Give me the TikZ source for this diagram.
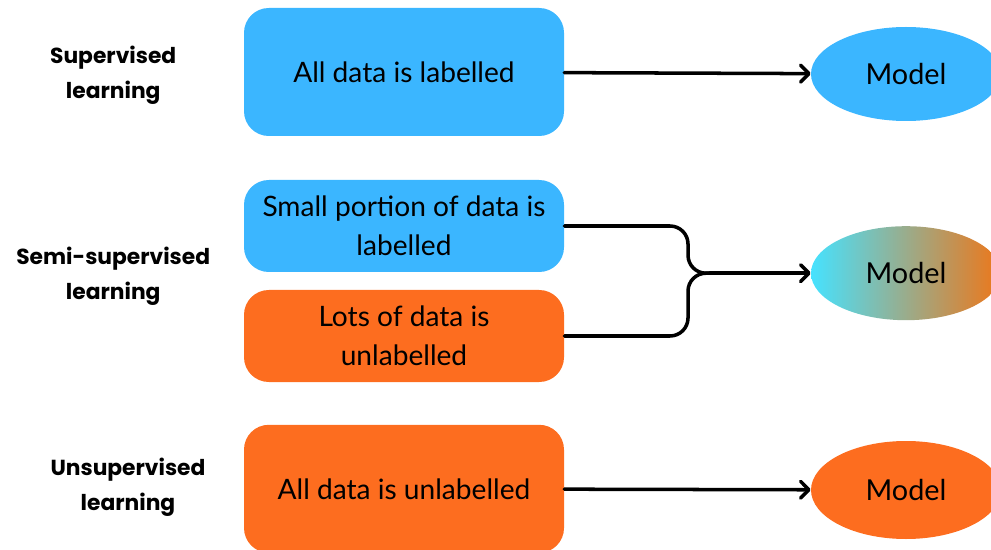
\documentclass[tikz,border=0pt]{standalone}
\usepackage{fontspec}
\setmainfont{Lato}
\newfontfamily\kindfont{Poppins}
\definecolor{labblue}{RGB}{59, 182, 255}
\definecolor{unlaborange}{RGB}{253, 109, 31}
\definecolor{mixcyan}{RGB}{70, 226, 255}
\definecolor{mixorange}{RGB}{238, 118, 24}
\usetikzlibrary{shapes, arrows.meta, positioning, calc}

\begin{document}
\begin{tikzpicture}[
  databox/.style={rounded corners=0.62cm, minimum width=8cm, align=center, inner sep=0pt, font=\fontsize{20}{28}\selectfont},
  modelnode/.style={ellipse, minimum width=4.75cm, minimum height=2.35cm, inner sep=0pt, font=\fontsize{20.5}{24}\selectfont},
  kindlabel/.style={align=center, font=\kindfont\fontsize{15.5}{25}\selectfont\bfseries},
  flow/.style={line width=2.5pt, line cap=round, line join=round},
  flowarrow/.style={flow, -{Straight Barb[length=6pt, width=12pt, line cap=round, line join=round]}}
]
  \useasboundingbox (0,0) rectangle (24.775,-13.75);

  % supervised
  \node[kindlabel] (sup) at (2.83,-1.88) {Supervised\\learning};
  \node[databox, fill=labblue, minimum height=3.2cm] (allab) at (10.1,-1.8) {All data is labelled};
  \node[modelnode, fill=labblue] (supmodel) at (22.65,-1.85) {Model};
  \draw[flowarrow] (allab) -- (supmodel);

  % semi-supervised
  \node[kindlabel] (semi) at (2.83,-6.9) {Semi-supervised\\learning};
  \node[databox, fill=labblue, minimum height=2.3cm] (small) at (10.1,-5.65) {Small portion of data is\\labelled};
  \node[databox, fill=unlaborange, minimum height=2.3cm] (lots) at (10.1,-8.4) {Lots of data is\\unlabelled};
  \node[modelnode, left color=mixcyan, right color=mixorange] (semimodel) at (22.65,-6.83) {Model};
  \coordinate (join) at (17.75,-6.83);
  \draw[flow, rounded corners=0.45cm] (small.east) -| ([xshift=-0.55cm]join) -- (join);
  \draw[flow, rounded corners=0.45cm] (lots.east) -| ([xshift=-0.55cm]join) -- (join);
  \draw[flowarrow] (join) -- (semimodel);

  % unsupervised
  \node[kindlabel] (unsup) at (3.2,-12.18) {Unsupervised\\learning};
  \node[databox, fill=unlaborange, minimum height=3.2cm] (allunlab) at (10.1,-12.22) {All data is unlabelled};
  \node[modelnode, fill=unlaborange, minimum height=2.45cm] (unsupmodel) at (22.65,-12.25) {Model};
  \draw[flowarrow] (allunlab) -- (unsupmodel);
\end{tikzpicture}
\end{document}
